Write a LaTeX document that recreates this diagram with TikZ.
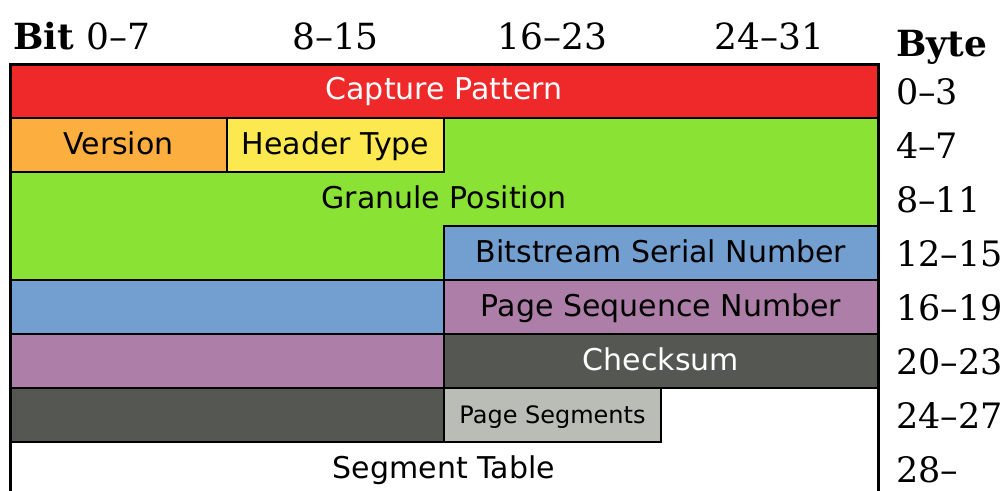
\documentclass[tikz,border=0pt]{standalone}
\usepackage{fontspec}
\setmainfont{DejaVu Serif}
\newfontfamily\fieldfont{DejaVu Sans}

% Tango palette
\definecolor{scarlet}{HTML}{EF2929}
\definecolor{orangeL}{HTML}{FCAF3E}
\definecolor{butter}{HTML}{FCE94F}
\definecolor{chameleon}{HTML}{8AE234}
\definecolor{skyblue}{HTML}{729FCF}
\definecolor{plum}{HTML}{AD7FA8}
\definecolor{aluDark}{HTML}{555753}
\definecolor{aluLight}{HTML}{BABDB6}

\begin{document}
\begin{tikzpicture}[x=1pt,y=-1pt,
  cell/.style={draw=black, line width=1.5pt, line join=miter},
  field/.style={font=\fieldfont\fontsize{30}{36}\selectfont, anchor=base, inner sep=0pt},
  smallfield/.style={font=\fieldfont\fontsize{24}{28}\selectfont, anchor=base, inner sep=0pt},
  head/.style={font=\fontsize{36}{42}\selectfont, anchor=base, inner sep=0pt},
  rowlabel/.style={font=\fontsize{35}{42}\selectfont, anchor=base west, inner sep=0pt}]
\useasboundingbox (0,0) rectangle (1008,490);

% ---- header fields ----
\path[cell, fill=scarlet] (10,64) rectangle (878,118);
\path[cell, fill=orangeL] (10,118) rectangle (227,172);
\path[cell, fill=butter] (227,118) rectangle (444,172);
\path[cell, fill=chameleon] (444,118) -- (878,118) -- (878,226) -- (444,226)
  -- (444,280) -- (10,280) -- (10,172) -- (444,172) -- cycle;
\path[cell, fill=skyblue] (444,226) rectangle (878,280);
\path[cell, fill=skyblue] (10,280) rectangle (444,334);
\path[cell, fill=plum] (444,280) rectangle (878,334);
\path[cell, fill=plum] (10,334) rectangle (444,388);
\path[cell, fill=aluDark] (444,334) rectangle (878,388);
\path[cell, fill=aluDark] (10,388) rectangle (444,442);
\path[cell, fill=aluLight] (444,388) rectangle (661,442);

% ---- outer frame, open at the bottom ----
\draw[line width=3pt, line join=miter] (10,500) -- (10,64) -- (878,64) -- (878,500);

% ---- field names ----
\node[field, text=white] (capture) at (444,99) {Capture Pattern};
\node[field] (version) at (118.5,154) {Version};
\node[field] (htype) at (335.5,154) {Header Type};
\node[field] (granule) at (444,208) {Granule Position};
\node[field] (serial) at (661,262) {Bitstream Serial Number};
\node[field] (seqno) at (661,316) {Page Sequence Number};
\node[field, text=white] (checksum) at (661,370) {Checksum};
\node[smallfield] (segs) at (552.5,423) {Page Segments};
\node[field] (segtable) at (444,478) {Segment Table};

% ---- bit ruler ----
\node[head, anchor=base west] (bit) at (13,49) {\textbf{Bit}};
\node[head] (b0) at (118.5,49) {0–7};
\node[head] (b1) at (335.5,49) {8–15};
\node[head] (b2) at (552.5,49) {16–23};
\node[head] (b3) at (769.5,49) {24–31};

% ---- byte offsets ----
\node[head, anchor=base west] (byte) at (896,56) {\textbf{Byte}};
\node[rowlabel] (r0) at (896,104) {0–3};
\node[rowlabel] (r1) at (896,158) {4–7};
\node[rowlabel] (r2) at (896,212) {8–11};
\node[rowlabel] (r3) at (896,266) {12–15};
\node[rowlabel] (r4) at (896,320) {16–19};
\node[rowlabel] (r5) at (896,374) {20–23};
\node[rowlabel] (r6) at (896,428) {24–27};
\node[rowlabel] (r7) at (896,482) {28–};
\end{tikzpicture}
\end{document}
